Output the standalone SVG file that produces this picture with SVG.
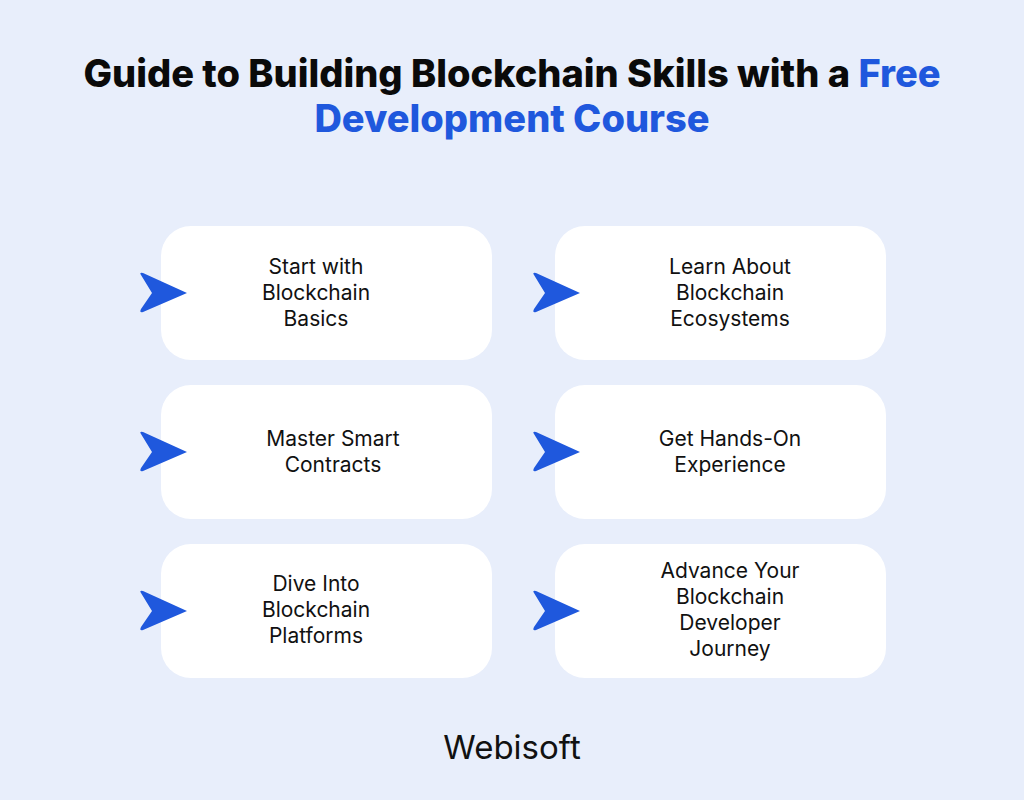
<svg xmlns="http://www.w3.org/2000/svg" width="1024" height="800" viewBox="0 0 1024 800">
<style>
.card{fill:#fff}
.arr{fill:#1f58dd}
.t{font-family:Inter,"Noto Sans",sans-serif;font-size:21px;fill:#111;text-anchor:middle}
.h{font-family:Inter,"Noto Sans",sans-serif;font-size:38px;font-weight:800;text-anchor:middle;fill:#0a0a0a}
.b{fill:#1f58dd}
</style>
<defs><path id="a" d="M-46,-18 Q-48,-21 -44,-20 L0,0 L-44,19 Q-48,20 -46,16 L-35,0 Z"/></defs>
<rect width="1024" height="800" fill="#e8eefb"/>
<text class="h" x="512" y="87">Guide to Building Blockchain Skills with a <tspan class="b">Free</tspan></text>
<text class="h" x="512" y="132"><tspan class="b">Development Course</tspan></text>
<g id="n1"><rect class="card" x="161" y="226" width="331" height="134" rx="30"/><use href="#a" class="arr" x="187" y="293"/><text class="t"><tspan x="316" y="274">Start with</tspan><tspan x="316" y="300">Blockchain</tspan><tspan x="316" y="326">Basics</tspan></text></g>
<g id="n2"><rect class="card" x="555" y="226" width="331" height="134" rx="30"/><use href="#a" class="arr" x="580" y="293"/><text class="t"><tspan x="730" y="274">Learn About</tspan><tspan x="730" y="300">Blockchain</tspan><tspan x="730" y="326">Ecosystems</tspan></text></g>
<g id="n3"><rect class="card" x="161" y="385" width="331" height="134" rx="30"/><use href="#a" class="arr" x="187" y="452"/><text class="t"><tspan x="333" y="446">Master Smart</tspan><tspan x="333" y="472">Contracts</tspan></text></g>
<g id="n4"><rect class="card" x="555" y="385" width="331" height="134" rx="30"/><use href="#a" class="arr" x="580" y="452"/><text class="t"><tspan x="730" y="446">Get Hands-On</tspan><tspan x="730" y="472">Experience</tspan></text></g>
<g id="n5"><rect class="card" x="161" y="544" width="331" height="134" rx="30"/><use href="#a" class="arr" x="187" y="611"/><text class="t"><tspan x="316" y="591">Dive Into</tspan><tspan x="316" y="617">Blockchain</tspan><tspan x="316" y="643">Platforms</tspan></text></g>
<g id="n6"><rect class="card" x="555" y="544" width="331" height="134" rx="30"/><use href="#a" class="arr" x="580" y="611"/><text class="t"><tspan x="730" y="578">Advance Your</tspan><tspan x="730" y="604">Blockchain</tspan><tspan x="730" y="630">Developer</tspan><tspan x="730" y="656">Journey</tspan></text></g>
<g id="connectors"/>
<text x="512" y="759" font-family="Inter,'Noto Sans',sans-serif" font-size="33" text-anchor="middle" fill="#111">Webisoft</text>
</svg>
